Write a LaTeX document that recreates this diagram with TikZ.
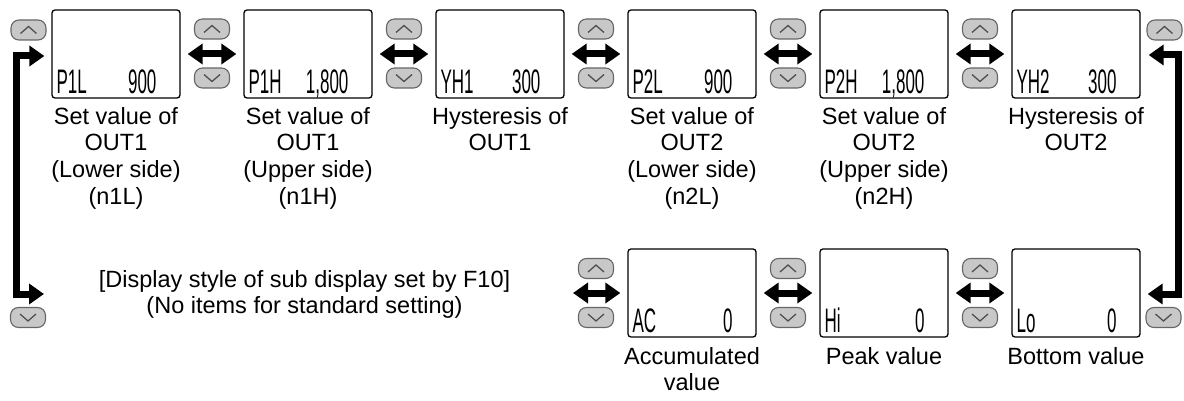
\documentclass[tikz,border=0pt]{standalone}
\usepackage{fontspec}
\usepackage{graphicx}
\setmainfont{Liberation Sans}
\usetikzlibrary{arrows.meta,calc}
\definecolor{btnfill}{HTML}{C8C8C8}
\definecolor{btnedge}{HTML}{666666}
\definecolor{chevcol}{HTML}{505050}
\newcommand{\lcdtext}[1]{\scalebox{0.5}[1]{#1}}
\begin{document}
\begin{tikzpicture}[x=1pt,y=-1pt,
  disp/.style={draw=black, line width=1.3pt, rounded corners=3pt, minimum width=128pt, minimum height=88pt, inner sep=0pt, fill=white},
  btnshape/.style={draw=btnedge, fill=btnfill, line width=1.1pt, rounded corners=8pt, minimum width=35pt, minimum height=20pt, inner sep=0pt},
  chev/.style={draw=chevcol, line width=1.3pt},
  lcd/.style={inner sep=0pt, font=\fontsize{34}{34}\selectfont},
  lbl/.style={inner sep=0pt, align=center, anchor=north, font=\fontsize{23.5}{26.7}\selectfont},
  dbl/.style={line width=7pt, {Triangle[length=15pt,width=20pt]}-{Triangle[length=15pt,width=20pt]}, shorten <=7pt, shorten >=7pt},
  loopline/.style={line width=7pt, line join=miter, {Triangle[length=15pt,width=20pt]}-{Triangle[length=15pt,width=20pt]}},
]
\useasboundingbox (0,0) rectangle (1184,401);

% top row displays
\node[disp] (d1) at (116,54) {};
\node[disp] (d2) at (308,54) {};
\node[disp] (d3) at (500,54) {};
\node[disp] (d4) at (692,54) {};
\node[disp] (d5) at (884,54) {};
\node[disp] (d6) at (1076,54) {};
% bottom row displays
\node[disp] (b1) at (692,293) {};
\node[disp] (b2) at (884,293) {};
\node[disp] (b3) at (1076,293) {};

% display contents
\node[lcd, anchor=base west] (d1a) at ($(d1.south west)+(5,-5)$) {\lcdtext{P1L}};
\node[lcd, anchor=base east] (d1b) at ($(d1.south east)+(-24,-5)$) {\lcdtext{900}};
\node[lcd, anchor=base west] (d2a) at ($(d2.south west)+(5,-5)$) {\lcdtext{P1H}};
\node[lcd, anchor=base east] (d2b) at ($(d2.south east)+(-24,-5)$) {\lcdtext{1,800}};
\node[lcd, anchor=base west] (d3a) at ($(d3.south west)+(5,-5)$) {\lcdtext{YH1}};
\node[lcd, anchor=base east] (d3b) at ($(d3.south east)+(-24,-5)$) {\lcdtext{300}};
\node[lcd, anchor=base west] (d4a) at ($(d4.south west)+(5,-5)$) {\lcdtext{P2L}};
\node[lcd, anchor=base east] (d4b) at ($(d4.south east)+(-24,-5)$) {\lcdtext{900}};
\node[lcd, anchor=base west] (d5a) at ($(d5.south west)+(5,-5)$) {\lcdtext{P2H}};
\node[lcd, anchor=base east] (d5b) at ($(d5.south east)+(-24,-5)$) {\lcdtext{1,800}};
\node[lcd, anchor=base west] (d6a) at ($(d6.south west)+(5,-5)$) {\lcdtext{YH2}};
\node[lcd, anchor=base east] (d6b) at ($(d6.south east)+(-24,-5)$) {\lcdtext{300}};
\node[lcd, anchor=base west] (b1a) at ($(b1.south west)+(5,-5)$) {\lcdtext{AC}};
\node[lcd, anchor=base east] (b1b) at ($(b1.south east)+(-24,-5)$) {\lcdtext{0}};
\node[lcd, anchor=base west] (b2a) at ($(b2.south west)+(5,-5)$) {\lcdtext{Hi}};
\node[lcd, anchor=base east] (b2b) at ($(b2.south east)+(-24,-5)$) {\lcdtext{0}};
\node[lcd, anchor=base west] (b3a) at ($(b3.south west)+(5,-5)$) {\lcdtext{Lo}};
\node[lcd, anchor=base east] (b3b) at ($(b3.south east)+(-24,-5)$) {\lcdtext{0}};

% buttons top row
\node[btnshape] (u0) at (28.5,30) {};
\node[btnshape] (u1) at (212,29) {};
\node[btnshape] (v1) at (212,78) {};
\node[btnshape] (u2) at (404,29) {};
\node[btnshape] (v2) at (404,78) {};
\node[btnshape] (u3) at (596,29) {};
\node[btnshape] (v3) at (596,78) {};
\node[btnshape] (u4) at (788,29) {};
\node[btnshape] (v4) at (788,78) {};
\node[btnshape] (u5) at (980,29) {};
\node[btnshape] (v5) at (980,78) {};
\node[btnshape] (u6) at (1164.5,30) {};
% buttons bottom row
\node[btnshape] (bv0) at (28,317.5) {};
\node[btnshape] (bu1) at (596,268.5) {};
\node[btnshape] (bv1) at (596,317.5) {};
\node[btnshape] (bu2) at (788,268.5) {};
\node[btnshape] (bv2) at (788,317.5) {};
\node[btnshape] (bu3) at (980,268.5) {};
\node[btnshape] (bv3) at (980,317.5) {};
\node[btnshape] (bv4) at (1163.5,317.5) {};
% chevrons
\foreach \n in {u0,u1,u2,u3,u4,u5,u6,bu1,bu2,bu3}
  \draw[chev] ($(\n.center)+(-8,3.5)$) -- ++(8,-7) -- ++(8,7);
\foreach \n in {v1,v2,v3,v4,v5,bv0,bv1,bv2,bv3,bv4}
  \draw[chev] ($(\n.center)+(-8,-3.5)$) -- ++(8,7) -- ++(8,-7);

% labels
\node[lbl] (t1) at (116,107) {Set value of\\OUT1\\(Lower side)\\(n1L)};
\node[lbl] (t2) at (308,107) {Set value of\\OUT1\\(Upper side)\\(n1H)};
\node[lbl] (t3) at (500,107) {Hysteresis of\\OUT1};
\node[lbl] (t4) at (692,107) {Set value of\\OUT2\\(Lower side)\\(n2L)};
\node[lbl] (t5) at (884,107) {Set value of\\OUT2\\(Upper side)\\(n2H)};
\node[lbl] (t6) at (1076,107) {Hysteresis of\\OUT2};
\node[lbl] (s1) at (692,347) {Accumulated\\value};
\node[lbl] (s2) at (884,347) {Peak value};
\node[lbl] (s3) at (1076,347) {Bottom value};
\node[lbl] (note) at (304.5,270) {[Display style of sub display set by F10]\\(No items for standard setting)};

% double arrows
\draw[dbl] (d1.east) -- (d2.west);
\draw[dbl] (d2.east) -- (d3.west);
\draw[dbl] (d3.east) -- (d4.west);
\draw[dbl] (d4.east) -- (d5.west);
\draw[dbl] (d5.east) -- (d6.west);
\coordinate (bl) at (566,293);
\draw[dbl] (bl) -- (b1.west);
\draw[dbl] (b1.east) -- (b2.west);
\draw[dbl] (b2.east) -- (b3.west);

% loops
\coordinate (lt) at (16,56);
\coordinate (lb) at (16,294);
\coordinate (lbe) at (44,294);
\draw[loopline, shorten >=7pt] (lbe) -- (lb) -- (lt) -- (d1.west |- lt);
\coordinate (rt) at (1178,55);
\coordinate (rb) at (1178,294);
\draw[loopline, shorten <=8pt, shorten >=7pt] (d6.east |- rt) -- (rt) -- (rb) -- (b3.east |- rb);
\end{tikzpicture}
\end{document}
